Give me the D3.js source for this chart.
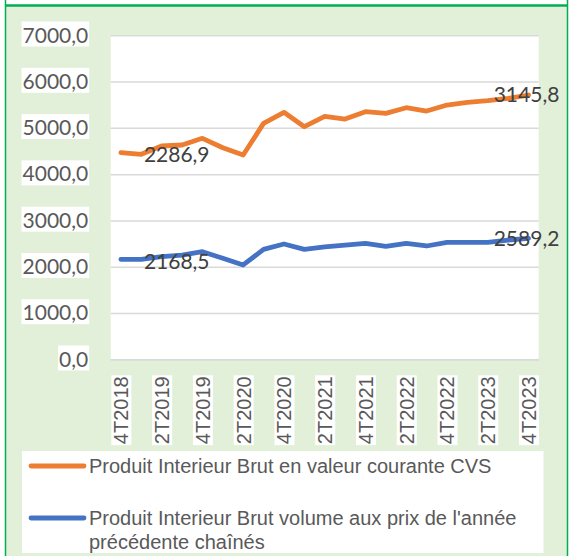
<!DOCTYPE html>
<html>
<head>
<meta charset="utf-8">
<script src="https://cdn.jsdelivr.net/npm/d3@7"></script>
<style>
  html, body { margin: 0; padding: 0; background: #ffffff; }
  svg { display: block; }
</style>
</head>
<body>
<div id="chart"></div>
<script>
// quarters shown on the chart (one point per quarter)
const quarters = [
  "4T2018", "1T2019", "2T2019", "3T2019", "4T2019", "1T2020", "2T2020",
  "3T2020", "4T2020", "1T2021", "2T2021", "3T2021", "4T2021", "1T2022",
  "2T2022", "3T2022", "4T2022", "1T2023", "2T2023", "3T2023", "4T2023"
];
const tickLabels = [
  "4T2018", "2T2019", "4T2019", "2T2020", "4T2020", "2T2021",
  "4T2021", "2T2022", "4T2022", "2T2023", "4T2023"
];
const yTicks = [0, 1000, 2000, 3000, 4000, 5000, 6000, 7000];

const pibValeur = [
  4463, 4429, 4608, 4630, 4774, 4571, 4413, 5098, 5336, 5025, 5250,
  5191, 5349, 5314, 5435, 5364, 5494, 5552, 5587, 5638, 5710
];
const pibVolume = [
  2160, 2160, 2218, 2253, 2325, 2182, 2038, 2376, 2491, 2376, 2430,
  2469, 2506, 2441, 2506, 2448, 2527, 2527, 2527, 2577, 2614
];

// data labels as they appear on the chart (first / last point)
const valeurLabels = ["2286,9", "3145,8"];
const volumeLabels = ["2168,5", "2589,2"];

const seriesNames = [
  "Produit Interieur Brut en valeur courante CVS",
  ["Produit Interieur Brut volume aux prix de l'année", "précédente chaînés"]
];

const W = 571, H = 556;
const plot = { left: 110.7, right: 538.7, top: 35.3, bottom: 359.3 };
const numFont = "Lato, 'Open Sans', sans-serif";
const txtFont = "'Liberation Sans', Arial, sans-serif";

const svg = d3.select("#chart").append("svg")
  .attr("width", W)
  .attr("height", H);

// frame
svg.append("rect")
  .attr("x", 5).attr("y", 5.5)
  .attr("width", 562.5).attr("height", H)
  .attr("fill", "#e2efd9");
svg.append("line")
  .attr("x1", 5).attr("x2", 568).attr("y1", 5.5).attr("y2", 5.5)
  .attr("stroke", "#00b050").attr("stroke-width", 2.5);
svg.append("line")
  .attr("x1", 5.5).attr("x2", 5.5).attr("y1", 0).attr("y2", H)
  .attr("stroke", "#00b050").attr("stroke-width", 1.5);
svg.append("line")
  .attr("x1", 567.5).attr("x2", 567.5).attr("y1", 0).attr("y2", H)
  .attr("stroke", "#00b050").attr("stroke-width", 1.5);

// plot area
svg.append("rect")
  .attr("x", plot.left).attr("y", plot.top)
  .attr("width", plot.right - plot.left)
  .attr("height", plot.bottom - plot.top)
  .attr("fill", "#ffffff");

const x = d3.scalePoint()
  .domain(quarters)
  .range([plot.left, plot.right])
  .padding(0.5);

const y = d3.scaleLinear()
  .domain([0, 7000])
  .range([plot.bottom, plot.top]);

// gridlines
svg.append("g")
  .attr("transform", `translate(${plot.left},0)`)
  .call(d3.axisLeft(y).tickValues(yTicks).tickSize(-(plot.right - plot.left)).tickFormat(""))
  .call(g => g.select(".domain").remove())
  .call(g => g.selectAll(".tick line").attr("stroke", "#d9d9d9").attr("stroke-width", 1.5));

// y axis labels
const yAxis = svg.append("g")
  .attr("transform", `translate(${plot.left},0)`)
  .call(d3.axisLeft(y).tickValues(yTicks).tickSize(0).tickPadding(22.5)
    .tickFormat(d => d3.format(".1f")(d).replace(".", ",")))
  .call(g => g.select(".domain").remove());
yAxis.selectAll(".tick text")
  .attr("fill", "#595959")
  .style("font-family", numFont)
  .style("font-size", "21px");
yAxis.selectAll(".tick").each(function () {
  const t = d3.select(this).select("text");
  const b = t.node().getBBox();
  d3.select(this).insert("rect", "text")
    .attr("x", b.x - 1).attr("y", b.y)
    .attr("width", b.width + 2).attr("height", b.height)
    .attr("fill", "#ffffff");
});

// x axis labels
const xAxis = svg.append("g")
  .attr("transform", `translate(0,${plot.bottom})`)
  .call(d3.axisBottom(x).tickValues(tickLabels).tickSize(0).tickPadding(0))
  .call(g => g.select(".domain")
    .attr("stroke", "#d9d9d9").attr("stroke-width", 1.5));
xAxis.selectAll(".tick text")
  .attr("fill", "#595959")
  .style("font-family", txtFont)
  .style("font-size", "20px")
  .attr("text-anchor", "end")
  .attr("dy", "0.35em")
  .attr("transform", "translate(0,17) rotate(-90)");
xAxis.selectAll(".tick").each(function () {
  const t = d3.select(this).select("text");
  const b = t.node().getBBox();
  // bbox is in the rotated frame of the text
  d3.select(this).insert("rect", "text")
    .attr("x", b.x - 1).attr("y", b.y + 1)
    .attr("width", b.width + 2).attr("height", b.height - 2)
    .attr("transform", "translate(0,17) rotate(-90)")
    .attr("fill", "#ffffff");
});

// lines
const line = d3.line()
  .x((d, i) => x(quarters[i]))
  .y(d => y(d));

svg.append("path")
  .datum(pibValeur)
  .attr("fill", "none")
  .attr("stroke", "#ed7d31")
  .attr("stroke-width", 4.8)
  .attr("stroke-linejoin", "round")
  .attr("stroke-linecap", "round")
  .attr("d", line);

svg.append("path")
  .datum(pibVolume)
  .attr("fill", "none")
  .attr("stroke", "#4472c4")
  .attr("stroke-width", 4.8)
  .attr("stroke-linejoin", "round")
  .attr("stroke-linecap", "round")
  .attr("d", line);

// data labels: first one to the right of the point, last one centred on it
function dataLabels(values, labels) {
  const last = values.length - 1;
  svg.append("text")
    .attr("x", x(quarters[0]) + 23)
    .attr("y", y(values[0]) + 2)
    .attr("dy", "0.35em")
    .attr("fill", "#404040")
    .style("font-family", numFont)
    .style("font-size", "21px")
    .text(labels[0]);
  svg.append("text")
    .attr("x", x(quarters[last]) - 2)
    .attr("y", y(values[last]))
    .attr("dy", "0.35em")
    .attr("text-anchor", "middle")
    .attr("fill", "#404040")
    .style("font-family", numFont)
    .style("font-size", "21px")
    .text(labels[1]);
}
dataLabels(pibValeur, valeurLabels);
dataLabels(pibVolume, volumeLabels);

// legend
const legend = svg.append("g");
legend.append("rect")
  .attr("x", 22).attr("y", 451)
  .attr("width", 521.5).attr("height", 102)
  .attr("fill", "#ffffff");

const legendItems = [
  { color: "#ed7d31", lines: [seriesNames[0]], y: 466 },
  { color: "#4472c4", lines: seriesNames[1], y: 518 }
];
legendItems.forEach(item => {
  legend.append("line")
    .attr("x1", 31).attr("x2", 84)
    .attr("y1", item.y).attr("y2", item.y)
    .attr("stroke", item.color)
    .attr("stroke-width", 4.8)
    .attr("stroke-linecap", "round");
  const t = legend.append("text")
    .attr("x", 89)
    .attr("y", item.y)
    .attr("dy", "0.35em")
    .attr("fill", "#595959")
    .style("font-family", txtFont)
    .style("font-size", "20px");
  item.lines.forEach((s, i) => {
    t.append("tspan")
      .attr("x", 89)
      .attr("dy", i === 0 ? "0.35em" : "1.2em")
      .text(s);
  });
});
</script>
</body>
</html>
